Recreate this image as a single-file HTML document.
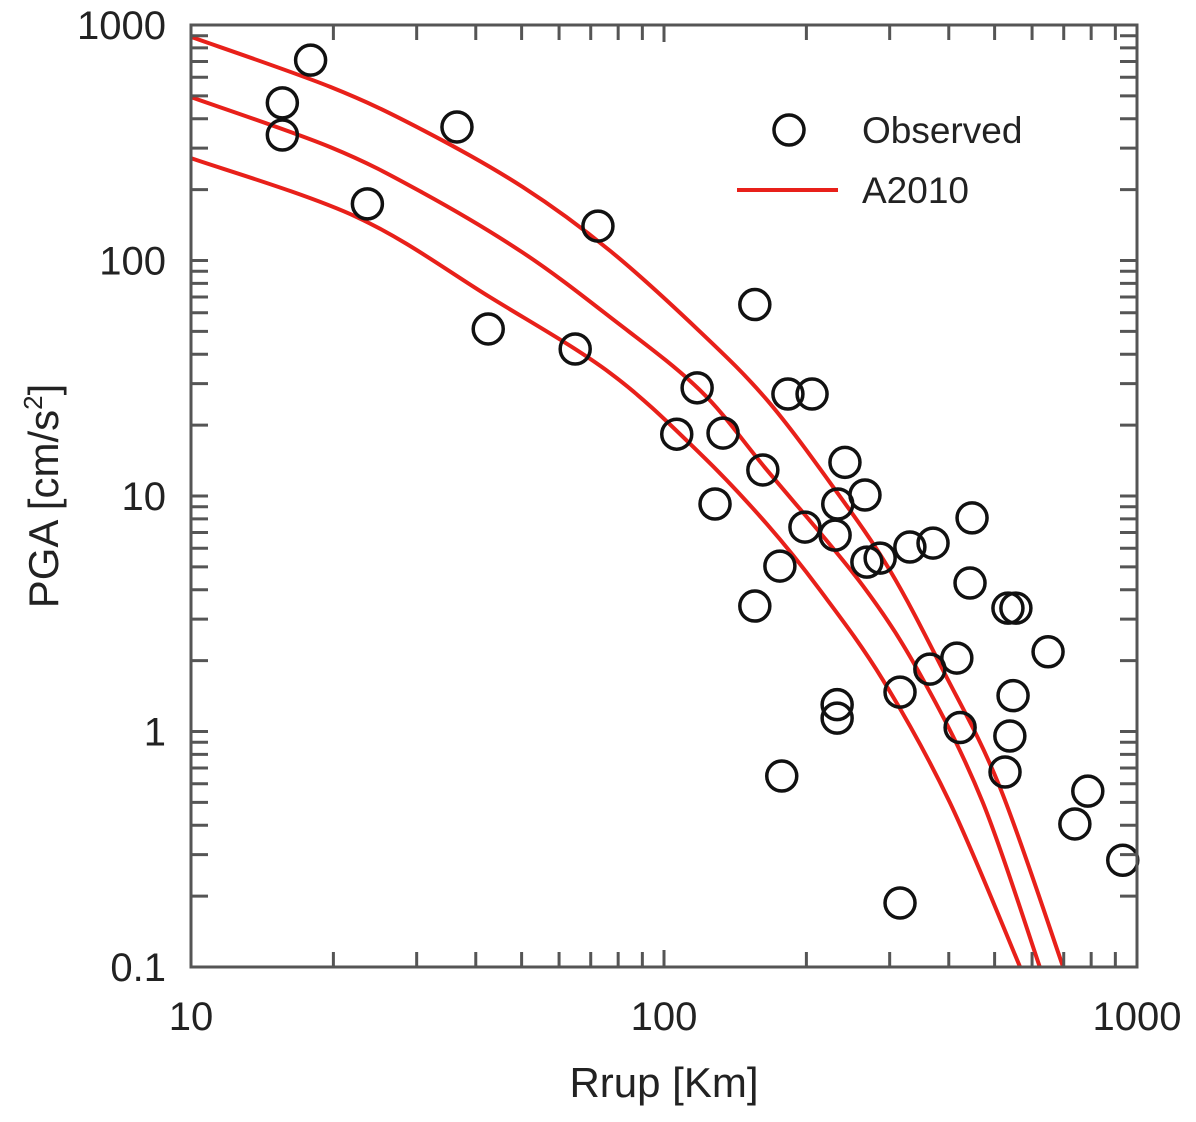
<!DOCTYPE html>
<html><head><meta charset="utf-8"><style>
html,body{margin:0;padding:0;background:#fff;}
svg{display:block;font-family:"Liberation Sans",Arial,sans-serif;}
</style></head><body>
<svg id="chart" width="1196" height="1122" viewBox="0 0 1196 1122" xmlns="http://www.w3.org/2000/svg">
<g id="marks"></g>
<g id="axes"></g>
<g id="legend">
  <circle cx="789" cy="130" r="15" fill="none" stroke="#111" stroke-width="3.5"/>
  <text x="862" y="143" font-size="37" fill="#222">Observed</text>
  <line x1="737" y1="190" x2="838" y2="190" stroke="#e8201a" stroke-width="4"/>
  <text x="862" y="203" font-size="37" fill="#222">A2010</text>
</g>
<text x="664" y="1097" font-size="42" text-anchor="middle" fill="#222">Rrup [Km]</text>
<text transform="translate(58,496) rotate(-90)" font-size="42" text-anchor="middle" fill="#222">PGA [cm/s<tspan font-size="26" dy="-16">2</tspan><tspan dy="16">]</tspan></text>
</svg>
<script>
const obsR=[15.6,15.6,17.9,23.6,36.5,42.5,64.9,72.5,117.5,182.8,205.6,106.4,133.3,161.8,128.2,241.3,266,233,198.6,230,175.8,268.5,286.4,331,370.5,448,443.6,533.5,554.6,155.6,648.6,416,364.8,315.5,547,232.3,232.3,422.7,538.5,526,177.4,787,739,315.5,933,155.6];
const obsPGA=[467,341,709,174,369,51.2,42.1,140,28.8,27.1,27.1,18.3,18.5,12.9,9.25,13.9,10.1,9.25,7.38,6.82,5.04,5.24,5.45,6.07,6.31,8.07,4.27,3.34,3.34,3.41,2.18,2.05,1.84,1.47,1.42,1.30,1.14,1.04,0.957,0.673,0.647,0.558,0.405,0.187,0.284,65];
const upperR=[10,19.7,30.9,50.3,76.9,119,165,228,300,389,513,698];
const upperPGA=[890,546,358,205,110,50,25.6,10.9,4.85,1.82,0.58,0.1];
const medianR=[10,19.7,30.9,50.3,76.9,119,165,263,353,472,623];
const medianPGA=[494,303,194,108,57.5,28.2,12.9,4.17,1.66,0.50,0.1];
const lowerR=[10,22.4,42.8,76.9,119,165,213.8,290,402,566];
const lowerPGA=[272,153,70,33.3,15.2,7.6,3.98,1.66,0.50,0.1];
const xTicks=[10,100,1000];
const xTickLabels=["10","100","1000"];
const yTicks=[0.1,1,10,100,1000];
const yTickLabels=["0.1","1","10","100","1000"];

const L=191,R=1137,T=25,B=967;
const sx=v=>L+(Math.log10(v)-1)/2*(R-L);
const sy=v=>T+(3-Math.log10(v))/4*(B-T);
const NS="http://www.w3.org/2000/svg";
const mk=(t,a,p)=>{const e=document.createElementNS(NS,t);for(const k in a)e.setAttribute(k,a[k]);p.appendChild(e);return e;};
const marks=document.getElementById('marks'), axes=document.getElementById('axes');

function curvePath(xs,ys){
  const p=xs.map((x,i)=>[sx(x),sy(ys[i])]);
  let d=`M${p[0][0]},${p[0][1]}`;
  for(let i=0;i<p.length-1;i++){
    const p0=p[i-1]||p[i],p1=p[i],p2=p[i+1],p3=p[i+2]||p2;
    const c1=[p1[0]+(p2[0]-p0[0])/6,p1[1]+(p2[1]-p0[1])/6];
    const c2=[p2[0]-(p3[0]-p1[0])/6,p2[1]-(p3[1]-p1[1])/6];
    d+=` C${c1[0]},${c1[1]} ${c2[0]},${c2[1]} ${p2[0]},${p2[1]}`;
  }
  return d;
}
const curves=[[upperR,upperPGA,'a2010-upper-curve'],[medianR,medianPGA,'a2010-median-curve'],[lowerR,lowerPGA,'a2010-lower-curve']];
curves.forEach(c=>{
  const e=mk('path',{d:curvePath(c[0],c[1]),fill:'none',stroke:'#e8201a','stroke-width':4},marks);
  
  
});
obsR.forEach((r,i)=>{
  const e=mk('circle',{cx:sx(r),cy:sy(obsPGA[i]),r:15,fill:'none',stroke:'#111','stroke-width':3.5},marks);
  
  
});

const fr=mk('rect',{x:L,y:T,width:R-L,height:B-T,fill:'none',stroke:'#555','stroke-width':3},axes);


for(let d=0;d<2;d++)for(let m=1;m<=9;m++){
  const v=Math.pow(10,1+d)*m; const x=sx(v); const len=m===1?17:15;
  if(m===1&&d===0)continue;
  const t1=mk('line',{x1:x,y1:B,x2:x,y2:B-len,stroke:'#555','stroke-width':3},axes);
  
  
  const t2=mk('line',{x1:x,y1:T,x2:x,y2:T+len,stroke:'#555','stroke-width':3},axes);
  
  
}
for(let d=0;d<4;d++)for(let m=1;m<=9;m++){
  const v=Math.pow(10,-1+d)*m; const y=sy(v); const len=17;
  const t1=mk('line',{x1:L,y1:y,x2:L+len,y2:y,stroke:'#555','stroke-width':3},axes);
  
  
  const t2=mk('line',{x1:R,y1:y,x2:R-len,y2:y,stroke:'#555','stroke-width':3},axes);
  
  
}
xTicks.forEach((v,i)=>{
  const t=mk('text',{x:sx(v),y:1030,'font-size':40,'text-anchor':'middle',fill:'#222'},axes);
  t.textContent=xTickLabels[i];
  
  
});
yTicks.forEach((v,i)=>{
  const t=mk('text',{x:166,y:sy(v)+14,'font-size':40,'text-anchor':'end',fill:'#222'},axes);
  t.textContent=yTickLabels[i];
  
  
});
</script>
</body></html>
